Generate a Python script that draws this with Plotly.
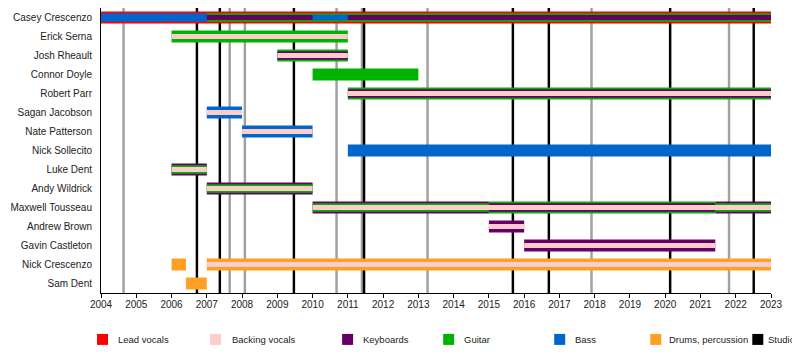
import plotly.graph_objects as go

# ---------------- data ----------------
members = ["Casey Crescenzo", "Erick Serna", "Josh Rheault", "Connor Doyle", "Robert Parr",
           "Sagan Jacobson", "Nate Patterson", "Nick Sollecito", "Luke Dent", "Andy Wildrick",
           "Maxwell Tousseau", "Andrew Brown", "Gavin Castleton", "Nick Crescenzo", "Sam Dent"]

year_ticks = list(range(2004, 2024))

roles = ["Lead vocals", "Backing vocals", "Keyboards", "Guitar", "Bass", "Drums, percussion"]
legend_labels = roles + ["Studio"]

# main (outer) role of each stint
outer_member = ["Casey Crescenzo", "Erick Serna", "Josh Rheault", "Connor Doyle", "Robert Parr",
                "Sagan Jacobson", "Nate Patterson", "Nick Sollecito", "Luke Dent", "Andy Wildrick",
                "Maxwell Tousseau", "Maxwell Tousseau", "Maxwell Tousseau", "Andrew Brown",
                "Gavin Castleton", "Nick Crescenzo", "Nick Crescenzo", "Sam Dent"]
outer_start = [2004, 2006, 2009, 2010, 2011, 2007, 2008, 2011, 2006, 2007,
               2010, 2015, 2021.42, 2015, 2016, 2006, 2007, 2006.41]
outer_end = [2023, 2011, 2011, 2013, 2023, 2008, 2010, 2023, 2007, 2010,
             2015, 2021.42, 2023, 2016, 2021.42, 2006.41, 2023, 2007]
outer_role = ["Lead vocals", "Guitar", "Guitar", "Guitar", "Guitar", "Bass", "Bass", "Bass",
              "Keyboards", "Keyboards", "Keyboards", "Guitar", "Keyboards", "Keyboards",
              "Keyboards", "Drums, percussion", "Drums, percussion", "Drums, percussion"]

# second role
mid_member = ["Casey Crescenzo", "Casey Crescenzo", "Josh Rheault", "Robert Parr", "Luke Dent",
              "Andy Wildrick", "Maxwell Tousseau", "Maxwell Tousseau", "Maxwell Tousseau"]
mid_start = [2004, 2007, 2009, 2011, 2006, 2007, 2010, 2015, 2021.42]
mid_end = [2007, 2023, 2011, 2023, 2007, 2010, 2015, 2021.42, 2023]
mid_role = ["Bass", "Guitar", "Keyboards", "Keyboards", "Guitar", "Guitar", "Guitar",
            "Keyboards", "Guitar"]

# third role
inner_member = ["Casey Crescenzo", "Erick Serna", "Josh Rheault", "Robert Parr",
                "Sagan Jacobson", "Nate Patterson", "Luke Dent", "Andy Wildrick",
                "Maxwell Tousseau", "Andrew Brown", "Gavin Castleton", "Nick Crescenzo"]
inner_start = [2007, 2006, 2009, 2011, 2007, 2008, 2006, 2007, 2010, 2015, 2016, 2007]
inner_end = [2023, 2011, 2011, 2023, 2008, 2010, 2007, 2010, 2023, 2016, 2021.42, 2023]
inner_role = ["Keyboards", "Backing vocals", "Backing vocals", "Backing vocals",
              "Backing vocals", "Backing vocals", "Backing vocals", "Backing vocals",
              "Backing vocals", "Backing vocals", "Backing vocals", "Backing vocals"]

# fourth role
core_member = ["Casey Crescenzo"]
core_start = [2010]
core_end = [2011]
core_role = ["Bass"]

studio_dates = [2006.72, 2007.37, 2009.47, 2011.46, 2015.68, 2016.70, 2020.14, 2022.51]
other_dates = [2004.64, 2007.65, 2008.08, 2010.68, 2011.40, 2013.26, 2017.91, 2021.81]

# ---------------- style ----------------
colors = {"Lead vocals": "#ff0000", "Backing vocals": "#ffcccc", "Keyboards": "#660066",
          "Guitar": "#00b300", "Bass": "#0066cc", "Drums, percussion": "#ffa024",
          "Studio": "#000000"}
layer_width = {"outer": 0.63, "mid": 0.45, "inner": 0.27, "core": 0.3}

OFF = 8  # page offset of the plot div
W, H = 800 - OFF, 355 - OFF
ML = 101 - OFF
MR = W - (770.7 - OFF)
MT = 0
PH = 293.5 - OFF - MT
MB = H - MT - PH
PW = W - ML - MR

legend_sq_left = [97, 210, 342, 443, 554, 650, 752]
legend_text_left = [117, 231, 362, 463, 574, 668, 767]
legend_center_y = 340
FONT = "Liberation Sans, Arial, sans-serif"


def px_x(px):
    return (px - OFF - ML) / PW


def px_y(py):
    return (PH + MT - (py - OFF)) / PH


fig = go.Figure()

# vertical release lines (drawn first, behind bars)
fig.add_trace(go.Bar(x=other_dates, y=[1] * len(other_dates), base=0, width=0.07,
                     marker=dict(color="#a0a0a0", line=dict(width=0)),
                     xaxis="x", yaxis="y", showlegend=False, hoverinfo="skip"))
fig.add_trace(go.Bar(x=studio_dates, y=[1] * len(studio_dates), base=0, width=0.07,
                     marker=dict(color=colors["Studio"], line=dict(width=0)),
                     xaxis="x", yaxis="y", name="Studio", showlegend=False,
                     hoverinfo="skip"))

layers = [("outer", outer_member, outer_start, outer_end, outer_role),
          ("mid", mid_member, mid_start, mid_end, mid_role),
          ("inner", inner_member, inner_start, inner_end, inner_role),
          ("core", core_member, core_start, core_end, core_role)]

for lname, mem, st, en, rl in layers:
    for role in roles:
        idx = [i for i, r in enumerate(rl) if r == role]
        if not idx:
            continue
        fig.add_trace(go.Bar(orientation="h",
                             y=[mem[i] for i in idx],
                             base=[st[i] for i in idx],
                             x=[en[i] - st[i] for i in idx],
                             width=layer_width[lname],
                             marker=dict(color=colors[role], line=dict(width=0)),
                             xaxis="x", yaxis="y2", name=role, showlegend=False,
                             hoverinfo="skip"))

# legend (swatches + labels)
shapes = []
annotations = []
for lab, sq, tx in zip(legend_labels, legend_sq_left, legend_text_left):
    shapes.append(dict(type="rect", xref="paper", yref="paper",
                       x0=px_x(sq), x1=px_x(sq + 11),
                       y0=px_y(legend_center_y + 5.5), y1=px_y(legend_center_y - 5.5),
                       fillcolor=colors[lab], line=dict(width=0), layer="above"))
    annotations.append(dict(text=lab, xref="paper", yref="paper",
                            x=px_x(tx), y=px_y(legend_center_y),
                            xanchor="left", yanchor="middle", showarrow=False,
                            borderpad=0,
                            font=dict(family=FONT, size=9.5, color="#222222")))

fig.update_layout(
    width=W, height=H,
    margin=dict(l=ML, r=MR, t=MT, b=MB, pad=0, autoexpand=False),
    paper_bgcolor="white", plot_bgcolor="white",
    barmode="overlay", showlegend=False,
    font=dict(family=FONT, size=10, color="#222222"),
    xaxis=dict(range=[2004, 2023], tickmode="array", tickvals=year_ticks,
               ticks="outside", ticklen=4, tickcolor="black", tickwidth=1,
               ticklabelstandoff=-2,
               showline=True, linecolor="black", linewidth=1,
               showgrid=False, zeroline=False, fixedrange=True,
               tickfont=dict(family=FONT, size=10, color="#222222")),
    yaxis=dict(range=[0, 1], visible=False, fixedrange=True, showgrid=False, zeroline=False),
    yaxis2=dict(overlaying="y", side="left", anchor="x", type="category",
                categoryorder="array", categoryarray=members,
                range=[len(members) - 0.5, -0.5],
                showline=True, linecolor="black", linewidth=1,
                ticks="", showgrid=False, zeroline=False, fixedrange=True,
                ticklabelstandoff=6,
                tickfont=dict(family=FONT, size=10, color="#222222")),
    shapes=shapes,
    annotations=annotations,
)

fig.write_html("out.html")
